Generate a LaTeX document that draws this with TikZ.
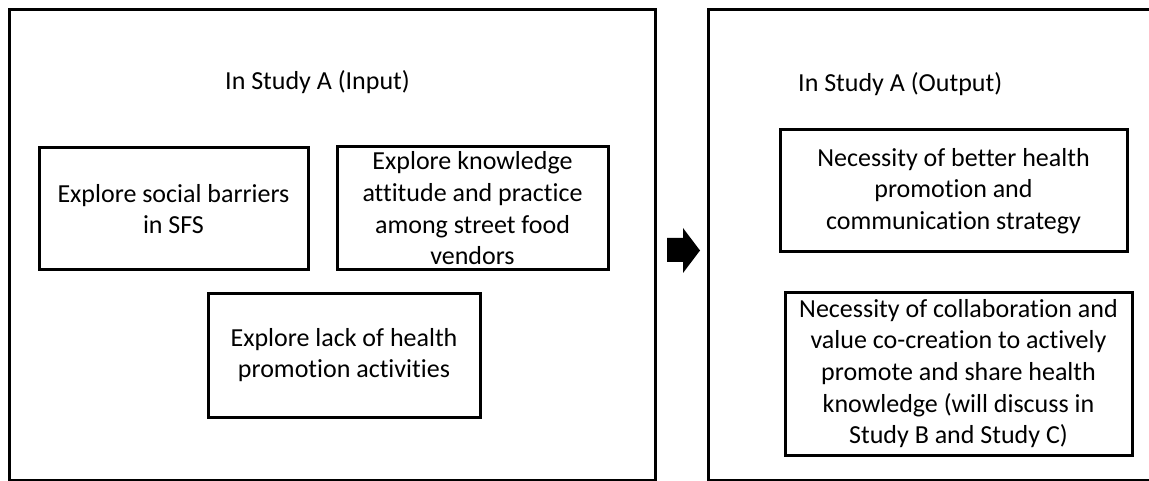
\documentclass[tikz,border=0pt]{standalone}
\usepackage{fontspec}
\setmainfont[Ligatures=NoCommon]{Carlito}
\begin{document}
\begin{tikzpicture}[x=1pt,y=-1pt,
  frame/.style={draw, line width=3pt, rectangle, inner sep=0pt, outer sep=0pt},
  item/.style={draw, line width=3pt, rectangle, inner sep=0pt, outer sep=0pt,
    align=center, font=\fontsize{26}{31.7}\selectfont},
  heading/.style={anchor=west, inner sep=0pt, font=\fontsize{26}{31.7}\selectfont}]
\useasboundingbox (0,0) rectangle (1149,481);
\clip (0,0) rectangle (1149,481);

% outer panels (the output panel runs past the right edge)
\node[frame, minimum width=646pt, minimum height=470pt] (inpanel) at (332,245) {};
\node[frame, minimum width=470pt, minimum height=470pt] (outpanel) at (943,245) {};

% panel headings
\node[heading] (inhead) at (225,82) {In Study A (Input)};
\node[heading] (outhead) at (798,84) {In Study A (Output)};

% input items
\node[item, minimum width=269pt, minimum height=122pt] (social) at (173.5,209)
  {Explore social barriers\\in SFS};
\node[item, minimum width=271pt, minimum height=123pt] (kap) at (472.5,208.5)
  {Explore knowledge\\attitude and practice\\among street food\\vendors};
\node[item, minimum width=272pt, minimum height=124pt] (lack) at (344,355)
  {Explore lack of health\\promotion activities};

% output items
\node[item, minimum width=347pt, minimum height=122pt] (better) at (953.5,191)
  {Necessity of better health\\promotion and\\communication strategy};
\node[item, minimum width=347pt, minimum height=163pt] (collab) at (958.5,373.5)
  {Necessity of collaboration and\\value co-creation to actively\\promote and share health\\knowledge (will discuss in\\Study B and Study C)};

% block arrow between the panels
\fill (667,238) -- (683,238) -- (683,228) -- (700,250.5) -- (683,273)
  -- (683,262) -- (667,262) -- cycle;
\end{tikzpicture}
\end{document}
